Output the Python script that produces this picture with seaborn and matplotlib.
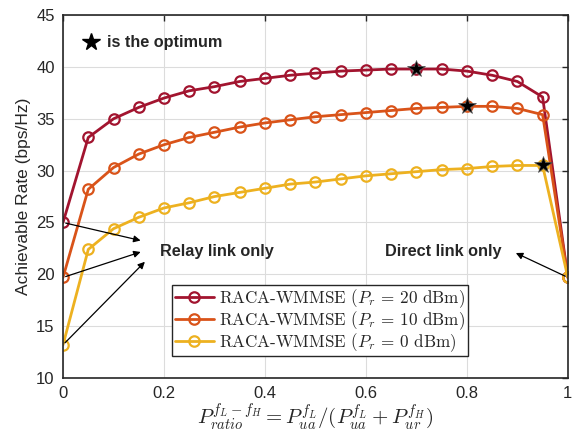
"""Achievable rate vs power ratio for RACA-WMMSE."""

import matplotlib
matplotlib.use("Agg")
import matplotlib.pyplot as plt
import pandas as pd
import seaborn as sns

ratio = [0.0, 0.05, 0.1, 0.15, 0.2, 0.25, 0.3, 0.35, 0.4, 0.45, 0.5,
         0.55, 0.6, 0.65, 0.7, 0.75, 0.8, 0.85, 0.9, 0.95, 1.0]
rate_20dbm = [25.0, 33.2, 35.0, 36.1, 37.0, 37.7, 38.1, 38.6, 38.9, 39.2, 39.4,
              39.6, 39.7, 39.8, 39.8, 39.8, 39.6, 39.2, 38.6, 37.1, 19.7]
rate_10dbm = [19.7, 28.2, 30.3, 31.6, 32.5, 33.2, 33.7, 34.2, 34.6, 34.9, 35.2,
              35.4, 35.6, 35.8, 36.0, 36.1, 36.2, 36.2, 36.0, 35.4, 19.7]
rate_0dbm = [13.2, 22.4, 24.4, 25.5, 26.4, 26.9, 27.5, 27.9, 28.3, 28.7, 28.9,
             29.2, 29.5, 29.7, 29.9, 30.1, 30.2, 30.4, 30.5, 30.5, 19.7]
labels = [r"RACA-WMMSE ($P_r$ = 20 dBm)",
          r"RACA-WMMSE ($P_r$ = 10 dBm)",
          r"RACA-WMMSE ($P_r$ = 0 dBm)"]
colors = ["#A2142F", "#D95319", "#EDB120"]
optimum_x = [0.7, 0.8, 0.95]

df = pd.DataFrame({"ratio": ratio * 3,
                   "rate": rate_20dbm + rate_10dbm + rate_0dbm,
                   "series": [lab for lab in labels for _ in ratio]})

sns.set_style("white")
plt.rcParams["font.family"] = ["Liberation Sans", "DejaVu Sans"]
plt.rcParams["mathtext.fontset"] = "cm"

fig = plt.figure(figsize=(5.73, 4.32), dpi=100)
ax = fig.add_axes([0.110, 0.125, 0.881, 0.840])

for lab, col in zip(labels, colors):
    sub = df[df["series"] == lab]
    sns.lineplot(data=sub, x="ratio", y="rate", ax=ax, color=col, label=lab,
                 linewidth=2, marker="o", markersize=7.5, markerfacecolor="none",
                 markeredgecolor=col, markeredgewidth=1.6)

# optimum stars
for lab, xo in zip(labels, optimum_x):
    sub = df[(df["series"] == lab) & (df["ratio"] == xo)]
    ax.plot(sub["ratio"], sub["rate"], linestyle="none", marker="*",
            markersize=13, color="black", markeredgecolor="#555555",
            markeredgewidth=0.5, zorder=5)

ax.set_xlim(0, 1)
ax.set_ylim(10, 45)
ax.set_xticks([0, 0.2, 0.4, 0.6, 0.8, 1])
ax.set_xticklabels(["0", "0.2", "0.4", "0.6", "0.8", "1"])
ax.set_yticks(range(10, 46, 5))
ax.tick_params(direction="in", top=True, right=True, labelsize=12,
               length=4, width=1, colors="#262626", pad=6)
ax.grid(True, color="#dcdcdc", linewidth=0.8)
for s in ax.spines.values():
    s.set_color("#262626")
    s.set_linewidth(1.2)

ax.set_ylabel("Achievable Rate (bps/Hz)", fontsize=12.5, color="#262626")
ax.set_xlabel(r"$P_{ratio}^{f_L-f_H} = P_{ua}^{f_L}/(P_{ua}^{f_L}+P_{ur}^{f_H})$",
              fontsize=15, color="#262626", labelpad=0)

# annotations
ax.plot([0.055], [42.4], linestyle="none", marker="*", markersize=13, color="black")
ax.text(0.088, 42.4, "is the optimum", fontsize=11.7, fontweight="bold", va="center")

arrow = dict(arrowstyle="-|>", color="black", lw=0.9, mutation_scale=10)
ax.annotate("", xy=(0.159, 23.2), xytext=(0, 25.0), arrowprops=arrow)
ax.annotate("", xy=(0.159, 22.24), xytext=(0, 19.7), arrowprops=arrow)
ax.annotate("", xy=(0.166, 21.4), xytext=(0, 13.2), arrowprops=arrow)
ax.text(0.192, 22.2, "Relay link only", fontsize=11.7, fontweight="bold", va="center")
ax.annotate("", xy=(0.892, 22.17), xytext=(1.0, 19.7), arrowprops=arrow)
ax.text(0.638, 22.2, "Direct link only", fontsize=11.7, fontweight="bold", va="center")

leg = ax.legend(loc="lower left", bbox_to_anchor=(0.216, 0.06),
                prop={"family": "cmr10", "size": 12.3}, frameon=True,
                fancybox=False, framealpha=1, edgecolor="#262626",
                borderpad=0.15, labelspacing=-0.05, handlelength=2.3,
                handletextpad=0.3, borderaxespad=0)
leg.get_frame().set_linewidth(1.0)

fig.savefig("out.png", dpi=100)
